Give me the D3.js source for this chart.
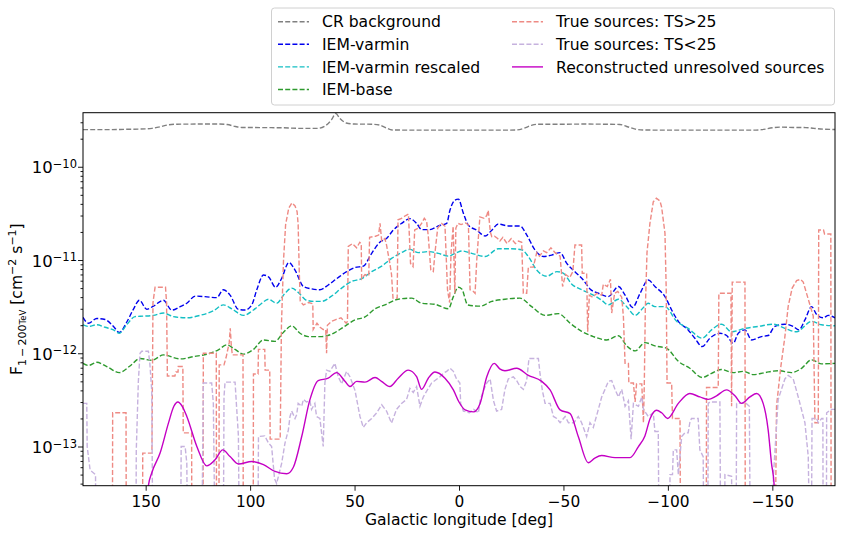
<!DOCTYPE html>
<html>
<head>
<meta charset="utf-8">
<script src="https://cdn.jsdelivr.net/npm/d3@7"></script>
<style>
  body { margin: 0; background: #fff; }
  text { font-family: "DejaVu Sans", sans-serif; fill: #000; }
</style>
</head>
<body>
<div id="chart"></div>
<script>
// flux values are in units of 1e-12 cm^-2 s^-1, longitude in deg
const UNIT = 1e-12;

const xTicks = [150, 100, 50, 0, -50, -100, -150];
const yTicks = [1e-13, 1e-12, 1e-11, 1e-10];

const crBackground = [[180,250],[170,250],[160,252],[150,255],[147,258],[143,268],[139,282],[135,286],[125,287],[115,287],[111,284],[107,270],[104,264],[95,263],[85,262],[76,258],[68,258],[64,275],[61,320],[59,372],[57,330],[54,295],[50,287],[42,286],[38,280],[35,262],[32,248],[20,247],[0,247],[-20,247],[-27,248],[-31,258],[-35,280],[-38,286],[-50,286],[-60,287],[-70,286],[-77,284],[-80,272],[-84,255],[-88,248],[-100,247],[-120,247],[-140,247],[-145,250],[-150,262],[-154,266],[-160,264],[-166,263],[-170,258],[-175,253],[-180,251]];

const iemVarmin = [[180,2.43],[177.4,2.1],[173.4,2.36],[169.4,2.3],[165.4,1.94],[162.6,1.67],[159.1,2.15],[155.9,2.96],[153,3.7],[149.5,2.97],[146.3,3.2],[141.5,3.7],[137.5,2.9],[133.5,3.16],[130.3,3.44],[126.3,4.1],[121.6,4.05],[116,3.95],[112.8,4.8],[109.6,4.2],[105.6,2.95],[102.4,2.91],[99.2,3.3],[96.8,4.8],[93.6,6.9],[91.2,6.6],[87.8,5.1],[85,6.3],[81.4,9.4],[78.5,7.8],[74.5,5.2],[70.6,4.9],[66.6,4.8],[62.6,5.4],[58.6,6.3],[53.8,7.5],[49.8,8.3],[45.8,8.6],[41.8,11.8],[37.8,15.6],[34.7,17],[31.5,20.9],[27.5,24.7],[23.5,27.8],[20.3,24.7],[17.9,21.2],[13.9,21.2],[9.9,23.2],[5.9,24.7],[4.3,34.4],[1.9,44],[0.3,45],[-2.1,31.7],[-4.5,23.6],[-8.5,20.9],[-12.5,18.1],[-15.7,20.9],[-18.8,24.3],[-23.6,23.2],[-29.2,23.2],[-32.4,18.6],[-36.4,12.8],[-40.4,10.9],[-44.4,11.3],[-48.4,12],[-51.6,9.2],[-55.5,7.5],[-59.5,6.1],[-62.7,4.9],[-66.7,4.4],[-71.5,4.05],[-76.3,5.2],[-79.5,4.2],[-83.1,3.1],[-86.7,4.4],[-90.6,6.1],[-93.8,5.2],[-98.6,4.05],[-101.8,2.91],[-105,2.2],[-109.7,1.78],[-112.9,1.45],[-116.4,1.18],[-120.1,1.45],[-124.9,1.64],[-128.1,1.55],[-131.3,1.28],[-133.7,1.64],[-136.9,1.78],[-140.1,1.39],[-144.8,1.51],[-148,1.55],[-151.2,1.94],[-156,2.05],[-160,1.94],[-162.7,1.78],[-165.6,2.28],[-168.8,3.16],[-171.2,2.6],[-174.4,2.4],[-176.8,2.55],[-180,2.4]];

const iemRescaled = [[180,2.02],[177.4,1.94],[173.4,2.02],[169.4,1.9],[165.4,1.78],[162.6,1.64],[159.1,2.02],[155.1,2.47],[151.1,2.5],[146.3,2.55],[141.5,2.7],[136.7,2.47],[130.3,2.4],[124,2.55],[117.6,2.85],[112.8,3.3],[108.8,3.0],[103.2,2.55],[98.4,2.91],[94.4,3.44],[91.2,3.8],[87.3,3.44],[83.3,4.4],[80.1,5.0],[77,4.5],[73,3.7],[69,3.6],[65.8,3.6],[61,4.1],[56.2,5.0],[51.4,5.9],[46.6,6.3],[41.8,7.5],[37,8.6],[32.3,10.4],[27.5,12],[23.5,13],[19.5,12],[14.7,12.3],[9.9,11.8],[5.1,11],[1.2,12],[-1.3,12.5],[-6.1,11.8],[-12.5,10.9],[-18.8,13.2],[-25.2,13.2],[-30,12.9],[-33.2,10.9],[-37.2,7.8],[-42,6.7],[-46.8,7.5],[-50,7.2],[-54,5.5],[-58.7,4.8],[-64.3,4.2],[-68.3,3.7],[-71.5,3.3],[-76.3,3.8],[-80.3,3.16],[-84.3,2.55],[-88.3,3.1],[-90.6,3.44],[-93.8,3.16],[-98.6,3.16],[-104.2,2.2],[-109.7,1.85],[-116.4,1.45],[-120.9,1.78],[-125.7,2.05],[-130.5,1.7],[-136.9,1.85],[-143.3,1.94],[-150.4,2.05],[-156,1.85],[-161.6,1.7],[-168.8,2.2],[-173.6,2.02],[-180,1.97]];

const iemBase = [[180,0.78],[177.4,0.74],[173.4,0.8],[168.6,0.72],[162.6,0.62],[157.5,0.73],[152.7,0.88],[147.1,0.84],[141.5,0.96],[133.5,0.87],[127.1,0.92],[119.2,1.0],[115.2,1.09],[111.2,1.23],[107.2,1.1],[103.2,0.98],[98.4,1.1],[93.6,1.39],[88.1,1.34],[84.1,1.67],[80.1,1.97],[76.1,1.64],[72.1,1.51],[65.8,1.51],[61,1.6],[55.4,1.9],[49.8,2.28],[45,2.45],[40.2,3.0],[35.5,3.3],[29.1,3.8],[22.7,3.9],[17.9,3.44],[11.5,3.35],[5.1,3.0],[2.7,4.05],[0.4,5.1],[-1.3,4.9],[-4.2,3.3],[-10.1,3.2],[-15.7,3.6],[-22,3.8],[-29.2,3.9],[-34.8,3.16],[-41.2,2.55],[-47.6,2.66],[-53.2,2.1],[-58.7,1.72],[-64.3,1.51],[-70.7,1.39],[-76.3,1.54],[-80.3,1.2],[-84.3,1.06],[-89,1.3],[-93.8,1.2],[-99.4,1.13],[-105,0.82],[-110.5,0.69],[-116.4,0.55],[-120.9,0.61],[-125.7,0.67],[-131.3,0.62],[-136.1,0.64],[-140.9,0.59],[-146.4,0.62],[-152.8,0.65],[-159.2,0.62],[-164,0.69],[-168.8,0.85],[-173.6,0.77],[-180,0.78]];

const trueBright = [[180,0.001],[166,0.001],[165.8,0.23],[159.4,0.23],[159.2,0.001],[151.6,0.001],[151.4,0.085],[147,0.085],[146.5,3.5],[145.5,5.1],[140.5,5.1],[140,3.5],[139.6,0.57],[136,0.57],[135.5,0.63],[134.5,0.63],[134.4,0.72],[132.2,0.72],[132,0.14],[128,0.14],[127.8,0.001],[122.6,0.001],[122.4,1.0],[116.2,1.0],[116,0.001],[115,0.001],[114.8,0.75],[112.5,0.75],[111.5,0.9],[110,1.3],[109.5,1.85],[109,1.2],[108.5,0.96],[103.4,0.96],[103.2,0.001],[98.6,0.001],[98.4,0.6],[96.2,0.6],[96,1.1],[93,1.1],[92.8,0.66],[90.6,0.66],[90.4,0.12],[85.6,0.12],[85,2],[84,10],[83,24],[81.5,36],[80,41],[78.5,38],[77.5,33],[77,24],[76.5,8],[76,3.6],[74.5,3.3],[72,3.5],[70,3.4],[69.8,1.8],[68,2.1],[66.5,1.9],[65,1.8],[63.8,1.8],[63.4,1.0],[63,2.0],[61,2.2],[59,2.3],[56.5,2.4],[54,2.1],[53.4,2.2],[53,14],[51,15],[49,13.5],[47.5,15.5],[46.8,15],[46.6,6.3],[45,7],[43.2,6.8],[42.8,17.5],[40,18],[38.5,18.5],[37.8,24.7],[37,16],[35.5,17],[34.7,14.5],[33.1,9.2],[32.3,7],[31.6,3.9],[29.6,3.9],[29.2,27],[27.5,28],[25.5,30],[24.2,31],[23.2,9.2],[22,8.5],[21.2,21],[19.5,22],[17.9,24.7],[16.6,28],[15.5,26],[14.7,18],[13.5,7.8],[12.3,7.5],[11.5,12],[10.2,22],[8.3,24.7],[6.7,23],[5.5,4.8],[4.5,3.5],[3.8,12],[2.8,23],[2,4.4],[1.5,22],[0.5,24.7],[-1,24],[-3,25],[-4.5,24],[-5.3,4.8],[-6.9,4.6],[-7.7,4.4],[-8.5,10],[-10,29],[-12,28],[-13.3,30],[-14,34],[-15,20],[-15.7,17.8],[-17,18],[-18.5,17],[-19.6,16],[-21,17.5],[-23,15],[-25,17],[-27,15],[-28.5,16],[-30,15.5],[-30.8,4.4],[-32.4,4.4],[-33.2,8.4],[-35.6,8.4],[-37.2,12],[-38.5,11],[-40.4,12.5],[-42,12],[-44,13.5],[-46,12],[-48.4,11],[-49.6,5.2],[-51,7],[-53,6.5],[-54.5,7.5],[-55.5,14.5],[-58.7,14.5],[-59,7.2],[-61.1,7.2],[-61.6,1.7],[-62.4,4.2],[-64,4.0],[-66,4.4],[-68.3,4.2],[-69.1,5.5],[-71,5.2],[-72.5,6.2],[-73.1,2.7],[-74.5,4.4],[-76,4.6],[-77.9,4.0],[-78.7,2.47],[-79.5,0.78],[-81.1,0.78],[-81.3,0.48],[-83.5,0.48],[-84.3,0.3],[-85,0.47],[-87.5,0.47],[-88.3,0.18],[-88.7,0.45],[-89.2,3],[-90,12],[-91.4,24.7],[-93,42],[-94.5,46],[-96.2,43],[-97,37],[-98.6,19.4],[-99.2,4.8],[-99.6,0.48],[-101.8,0.48],[-102.2,0.2],[-105.8,0.2],[-106.2,0.001],[-118.3,0.001],[-118.5,0.43],[-124.1,0.43],[-124.4,4.4],[-130.2,4.4],[-130.5,0.27],[-130.8,5.8],[-136.9,5.8],[-137.1,0.001],[-151,0.001],[-152,0.27],[-154,0.7],[-156,1.5],[-157.6,3.2],[-159.5,5],[-161.6,6],[-163.5,6.2],[-164.8,5.8],[-167.2,3.8],[-169.6,2.5],[-170.4,0.18],[-172,0.18],[-172.2,21],[-174.5,21],[-175,19],[-178,19],[-178.2,0.001],[-180,0.001]];

const trueFaint = [[180,0.29],[178.2,0.29],[178,0.1],[176.6,0.056],[174,0.05],[173.7,0.001],[154.8,0.001],[154.5,0.09],[153.5,0.5],[152.7,1.0],[151.9,1.05],[148.7,1.05],[148,0.78],[147.1,0.4],[146.3,0.001],[133.5,0.001],[133,0.1],[131.1,0.1],[130.3,0.066],[129.6,0.001],[123.5,0.001],[122.4,0.48],[118.4,0.48],[117.6,0.29],[116.3,0.001],[113,0.001],[112.5,0.34],[112,0.49],[107.2,0.49],[106.4,0.25],[105.6,0.13],[104.8,0.001],[96.5,0.001],[96,0.128],[93,0.13],[91.2,0.109],[89.7,0.1],[88.3,0.045],[87.3,0.04],[85.7,0.056],[84.9,0.066],[83.3,0.109],[81.7,0.15],[80.9,0.21],[80.1,0.24],[78.5,0.2],[77.7,0.22],[77,0.29],[75.3,0.27],[74.5,0.32],[73,0.3],[71.4,0.31],[70.6,0.25],[69,0.29],[68.2,0.21],[66.6,0.2],[65,0.1],[64.2,0.48],[63.4,0.66],[61.8,0.64],[59.4,0.78],[57.8,0.56],[56.2,0.47],[53.8,0.64],[52.2,0.56],[49.8,0.4],[47.4,0.21],[45.8,0.16],[44.2,0.18],[41.8,0.2],[39.4,0.23],[37,0.28],[34.7,0.24],[32.3,0.178],[29.9,0.25],[27.5,0.29],[25.1,0.32],[23.5,0.42],[21.9,0.38],[20.3,0.44],[18.7,0.27],[17.1,0.34],[14.7,0.42],[13.1,0.48],[11.5,0.51],[9.1,0.56],[7.5,0.61],[5.9,0.64],[4.3,0.69],[2.7,0.64],[1.2,0.53],[-0.4,0.48],[-0.8,0.29],[-2.1,0.24],[-5,0.23],[-7,0.25],[-9.3,0.23],[-10.1,0.31],[-11.7,0.4],[-13.3,0.48],[-14.9,0.53],[-16.5,0.31],[-18,0.24],[-20.4,0.25],[-22,0.41],[-23.6,0.53],[-26,0.56],[-27.6,0.51],[-29.2,0.44],[-30.8,0.41],[-32.4,0.51],[-33.5,0.88],[-38,0.88],[-38.8,0.6],[-39.9,0.4],[-41.2,0.29],[-43.6,0.29],[-45.2,0.21],[-46.8,0.2],[-48.4,0.18],[-50.8,0.21],[-52.4,0.18],[-55,0.18],[-57.1,0.21],[-58.7,0.18],[-61.1,0.128],[-62.7,0.18],[-64.3,0.16],[-66.7,0.25],[-68.3,0.34],[-69.9,0.41],[-71.5,0.5],[-73.1,0.51],[-74.7,0.41],[-76.3,0.34],[-77.9,0.41],[-79.5,0.27],[-81.1,0.31],[-82.4,0.12],[-83.5,0.29],[-85.9,0.27],[-87.5,0.34],[-88.3,0.25],[-90.6,0.21],[-93,0.23],[-93.8,0.145],[-95.4,0.145],[-96,0.001],[-100.8,0.001],[-101,0.05],[-102.2,0.05],[-102.6,0.092],[-104.2,0.092],[-105,0.05],[-106.6,0.128],[-108.1,0.14],[-109.7,0.14],[-110.5,0.18],[-111.3,0.2],[-114.5,0.2],[-115.3,0.092],[-116.9,0.078],[-117.5,0.001],[-119,0.001],[-119.3,0.29],[-120.1,0.3],[-124.9,0.3],[-125.5,0.001],[-127,0.001],[-127.3,0.05],[-130.5,0.048],[-131,0.001],[-132.5,0.001],[-132.9,0.29],[-137.5,0.29],[-139,0.27],[-139.7,0.001],[-149.6,0.001],[-150.5,0.048],[-152.8,0.32],[-156,0.53],[-157.6,0.58],[-160,0.53],[-162.4,0.34],[-165.6,0.18],[-167.2,0.078],[-168.5,0.001],[-169,0.2],[-171.2,0.2],[-172,0.18],[-173.6,0.2],[-174.2,0.2],[-174.4,0.001],[-175.8,0.001],[-176,0.23],[-178.4,0.25],[-180,0.25]];

const reconstructed = [[150.5,0.01],[148.7,0.038],[147.1,0.052],[143.1,0.085],[139.1,0.178],[136.5,0.27],[134.6,0.3],[132.5,0.27],[130.3,0.21],[125.5,0.1],[120.8,0.062],[116.8,0.072],[113.1,0.092],[109.6,0.078],[105.6,0.065],[99.2,0.069],[93.6,0.064],[88.1,0.054],[82.5,0.051],[79.3,0.06],[75.3,0.128],[71.4,0.316],[67.4,0.51],[62.6,0.54],[58.6,0.62],[54.6,0.5],[52.2,0.44],[49,0.5],[45,0.49],[40.2,0.55],[37.1,0.5],[33.1,0.44],[29.1,0.54],[24.3,0.66],[20.3,0.56],[17.9,0.41],[14.7,0.54],[11.5,0.63],[6.7,0.54],[2.7,0.405],[0,0.3],[-2.9,0.247],[-6.9,0.235],[-10.1,0.29],[-13.3,0.56],[-16.9,0.78],[-19.5,0.68],[-22,0.65],[-27.6,0.69],[-33.2,0.58],[-39.6,0.5],[-43.6,0.405],[-48.4,0.247],[-53.2,0.225],[-57.1,0.128],[-61.9,0.067],[-65,0.075],[-68.3,0.08],[-74.7,0.076],[-81.9,0.076],[-85.9,0.1],[-89,0.13],[-91.5,0.2],[-94.6,0.245],[-97,0.23],[-99.9,0.2],[-105,0.29],[-110.5,0.37],[-115.3,0.34],[-119.3,0.32],[-123.3,0.35],[-128.1,0.405],[-132.1,0.35],[-135.3,0.29],[-139.3,0.34],[-142.5,0.37],[-145.6,0.29],[-148,0.151],[-149.6,0.066],[-150.9,0.038],[-152,0.01]];

// Set up dimensions
const w = 843;
const h = 537;
const plot = { left: 83, right: 835, top: 112.7, bottom: 485.7 };
const fontSize = 15.6;

const svg = d3.select('#chart')
  .append('svg')
  .attr('width', w)
  .attr('height', h);

// Set up scales
const xScale = d3.scaleLinear()
  .domain([180, -180])
  .range([plot.left, plot.right]);

const yScale = d3.scaleLog()
  .domain([3.8e-14, 3.8e-10])
  .range([plot.bottom, plot.top]);

svg.append('clipPath')
  .attr('id', 'chart-area')
  .append('rect')
  .attr('x', plot.left)
  .attr('y', plot.top)
  .attr('width', plot.right - plot.left)
  .attr('height', plot.bottom - plot.top);

// Series styles, in legend order
const series = [
  { name: 'CR background', data: crBackground, color: '#808080', dash: '5,2.2', smooth: true },
  { name: 'IEM-varmin', data: iemVarmin, color: '#0000ee', dash: '5,2.2', smooth: true },
  { name: 'IEM-varmin rescaled', data: iemRescaled, color: '#14bfc4', dash: '5,2.2', smooth: true },
  { name: 'IEM-base', data: iemBase, color: '#2e9a2e', dash: '5,2.2', smooth: true },
  { name: 'True sources: TS>25', data: trueBright, color: '#ee8a84', dash: '5,2.2', smooth: false },
  { name: 'True sources: TS<25', data: trueFaint, color: '#c6b2de', dash: '5,2.2', smooth: false },
  { name: 'Reconstructed unresolved sources', data: reconstructed, color: '#c400c4', dash: null, smooth: true }
];

const lines = svg.append('g').attr('clip-path', 'url(#chart-area)');

series.forEach(s => {
  const line = d3.line()
    .curve(s.smooth ? d3.curveMonotoneX : d3.curveLinear)
    .x(d => xScale(d[0]))
    .y(d => yScale(d[1] * UNIT));
  lines.append('path')
    .datum(s.data)
    .attr('fill', 'none')
    .attr('stroke', s.color)
    .attr('stroke-width', 1.4)
    .attr('stroke-dasharray', s.dash)
    .attr('d', line);
});

// x axis
const xAxis = d3.axisBottom(xScale)
  .tickValues(xTicks)
  .tickSize(5)
  .tickPadding(5)
  .tickFormat(d => d < 0 ? '\u2212' + Math.abs(d) : String(d));

svg.append('g')
  .classed('x-axis', true)
  .attr('transform', `translate(0, ${plot.bottom})`)
  .call(xAxis);

// y axis, major and minor ticks
const yMinor = [];
for (let e = -14; e <= -10; e++) {
  for (let m = 2; m <= 9; m++) {
    const v = m * Math.pow(10, e);
    if (v >= 3.8e-14 && v <= 3.8e-10) yMinor.push(v);
  }
}

svg.append('g')
  .classed('y-axis', true)
  .attr('transform', `translate(${plot.left}, 0)`)
  .call(d3.axisLeft(yScale).tickValues(yTicks).tickSize(5).tickFormat(''));

svg.append('g')
  .classed('y-minor', true)
  .attr('transform', `translate(${plot.left}, 0)`)
  .call(d3.axisLeft(yScale).tickValues(yMinor).tickSize(2.5).tickFormat(''));

svg.selectAll('.domain').remove();
svg.selectAll('.tick line').attr('stroke', '#000').attr('stroke-width', 0.9);
svg.selectAll('.x-axis .tick text')
  .attr('font-size', 15.4)
  .attr('font-family', '"DejaVu Sans", sans-serif')
  .attr('fill', '#000');

// y tick labels as 10^n
yTicks.forEach(t => {
  const txt = svg.append('text')
    .attr('x', 77)
    .attr('y', yScale(t) + 6.6)
    .attr('text-anchor', 'end')
    .attr('font-size', 16.5);
  txt.append('tspan').text('10');
  txt.append('tspan')
    .attr('font-size', 11.5)
    .attr('dy', -5.5)
    .text('\u2212' + Math.abs(Math.round(Math.log10(t))));
});

// frame
svg.append('rect')
  .attr('x', plot.left)
  .attr('y', plot.top)
  .attr('width', plot.right - plot.left)
  .attr('height', plot.bottom - plot.top)
  .attr('fill', 'none')
  .attr('stroke', '#000')
  .attr('stroke-width', 1);

// axis labels
svg.append('text')
  .attr('x', (plot.left + plot.right) / 2)
  .attr('y', 525)
  .attr('text-anchor', 'middle')
  .attr('font-size', fontSize)
  .text('Galactic longitude [deg]');

const yl = svg.append('text')
  .attr('transform', `translate(22, ${(plot.top + plot.bottom) / 2}) rotate(-90)`)
  .attr('text-anchor', 'middle')
  .attr('font-size', fontSize);
yl.append('tspan').text('F');
yl.append('tspan').attr('font-size', 11).attr('dy', 4).text('1\u2009\u2212\u2009200');
yl.append('tspan').attr('font-size', 8.5).text('TeV');
yl.append('tspan').attr('dy', -4).text(' [cm');
yl.append('tspan').attr('font-size', 11).attr('dy', -6).text('\u22122');
yl.append('tspan').attr('dy', 6).text(' s');
yl.append('tspan').attr('font-size', 11).attr('dy', -6).text('\u22121');
yl.append('tspan').attr('dy', 6).text(']');

// legend
const legend = svg.append('g');
legend.append('rect')
  .attr('x', 271.5)
  .attr('y', 8)
  .attr('width', 563)
  .attr('height', 97)
  .attr('rx', 3)
  .attr('fill', '#fff')
  .attr('fill-opacity', 0.85)
  .attr('stroke', '#d0d0d0');

const rowY = [21.7, 44.3, 66.9, 89.5];
series.forEach((s, i) => {
  const col = i < 4 ? 0 : 1;
  const row = i < 4 ? i : i - 4;
  const hx = col === 0 ? 278 : 512;
  const y = rowY[row];
  legend.append('line')
    .attr('x1', hx).attr('x2', hx + 31)
    .attr('y1', y).attr('y2', y)
    .attr('stroke', s.color)
    .attr('stroke-width', 1.4)
    .attr('stroke-dasharray', s.dash);
  legend.append('text')
    .attr('x', hx + 44)
    .attr('y', y + 5.6)
    .attr('font-size', fontSize)
    .text(s.name);
});
</script>
</body>
</html>
